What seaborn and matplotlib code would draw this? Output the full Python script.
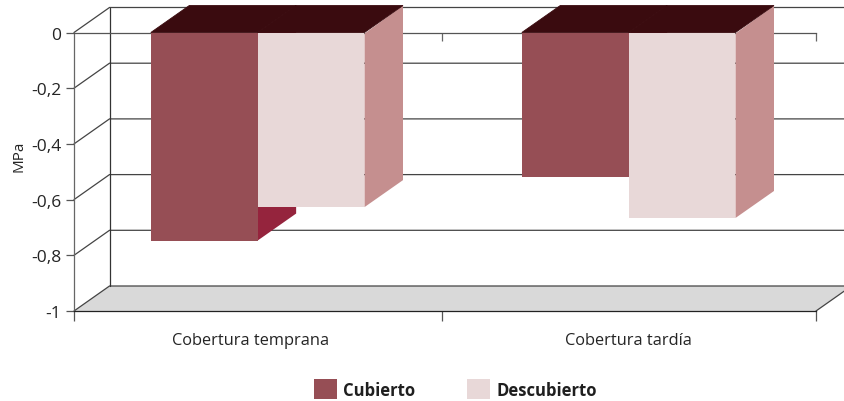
import matplotlib
matplotlib.use("Agg")
import matplotlib.pyplot as plt
from matplotlib.patches import Patch, Polygon
from matplotlib.transforms import ScaledTranslation
import pandas as pd
import seaborn as sns

categories = ["Cobertura temprana", "Cobertura tardía"]
series_names = ["Cubierto", "Descubierto"]
cubierto = [-0.747, -0.519]
descubierto = [-0.627, -0.666]
y_ticks = [0, -0.2, -0.4, -0.6, -0.8, -1]
y_tick_labels = ["0", "-0,2", "-0,4", "-0,6", "-0,8", "-1"]

FRONT = {"Cubierto": "#964e55", "Descubierto": "#e8d8d8"}
SIDE = {"Cubierto": "#95243d", "Descubierto": "#c58f8f"}
TOP = "#3a0b0f"
FLOOR = "#d9d9d9"
TEXT = "#242424"

W, H = 845, 402
sns.set_theme(style="white")
plt.rcParams["font.family"] = ["Open Sans", "DejaVu Sans"]

fig = plt.figure(figsize=(W / 100, H / 100), dpi=100)
ax = fig.add_axes([74 / W, (H - 312) / H, (816 - 74) / W, (312 - 33.5) / H])

df = pd.DataFrame({
    "categoria": categories * 2,
    "serie": [series_names[0]] * 2 + [series_names[1]] * 2,
    "mpa": cubierto + descubierto,
})
sns.barplot(data=df, x="categoria", y="mpa", hue="serie", palette=FRONT,
            width=0.576, gap=0, saturation=1, legend=False, linewidth=0, ax=ax)

x_left, x_mid, x_right = -0.495, 0.498, 1.505
ax.set_xlim(x_left, x_right)
ax.set_ylim(-1, 0)
ax.set_xlabel("")
ax.set_ylabel("MPa", fontsize=11, color=TEXT)
ax.yaxis.set_label_coords(-48 / 742, 0.56)

# Oblique depth of the box and of the bars, in axis units
wall_dx, wall_dy = 35.5 / 371, 25 / 278.5
bar_dx, bar_dy = 38.5 / 371, 27 / 278.5

# Floor, back wall and receding grid lines
ax.add_patch(Polygon([(x_left, -1), (x_left + wall_dx, -1 + wall_dy),
                      (x_right + wall_dx, -1 + wall_dy), (x_right, -1)],
                     closed=True, facecolor=FLOOR, edgecolor="none",
                     clip_on=False, zorder=1))
for v in y_ticks:
    ax.plot([x_left, x_left + wall_dx, x_right + wall_dx],
            [v, v + wall_dy, v + wall_dy],
            color="#444444", lw=0.9, clip_on=False, zorder=1.5,
            solid_joinstyle="miter")
ax.plot([x_left + wall_dx] * 2, [-1 + wall_dy, wall_dy], color="#333333", lw=0.9,
        clip_on=False, zorder=1.5)
ax.plot([x_right, x_right + wall_dx], [-1, -1 + wall_dy], color="#444444", lw=0.9,
        clip_on=False, zorder=1.5)

# Bar faces: sides and tops behind the front of each neighbouring bar
for i, (name, container) in enumerate(zip(series_names, ax.containers)):
    for bar in container:
        x0, x1 = bar.get_x(), bar.get_x() + bar.get_width()
        v = bar.get_height()
        bar.set_zorder(3 + i * 2)
        ax.add_patch(Polygon([(x1, -0.004), (x1 + bar_dx, bar_dy),
                              (x1 + bar_dx, v + bar_dy), (x1, v)],
                             closed=True, facecolor=SIDE[name], edgecolor="none",
                             clip_on=False, zorder=2 + i * 2))
        ax.add_patch(Polygon([(x0, 0), (x0 + bar_dx, bar_dy),
                              (x1 + bar_dx, bar_dy), (x1, 0)],
                             closed=True, facecolor=TOP, edgecolor=TOP, lw=0.6,
                             clip_on=False, zorder=6))

# Axes frame
for side in ["left", "top", "bottom"]:
    ax.spines[side].set_visible(True)
    ax.spines[side].set_linewidth(0.9)
    ax.spines[side].set_zorder(2.5)
ax.spines["right"].set_visible(False)
ax.spines["left"].set_color("#666666")
ax.spines["top"].set_color("#555555")
ax.spines["bottom"].set_color("#222222")

ax.set_yticks(y_ticks, y_tick_labels)
ax.tick_params(axis="y", left=True, length=6, width=0.9, color="#555555",
               pad=3, labelsize=12.5, labelcolor=TEXT)
ax.set_xticks([0, 1], categories)
ax.set_xticks([x_left, x_mid, x_right], minor=True)
ax.tick_params(axis="x", which="major", bottom=False, pad=9,
               labelsize=11.8, labelcolor=TEXT)
ax.tick_params(axis="x", which="minor", bottom=True, length=7, width=0.9,
               color="#555555")
ax.vlines([x_mid, x_right], -0.032, 0, color="#666666", lw=0.9, clip_on=False, zorder=2.5)

# The first category label sits slightly left of its group
first_label = ax.get_xticklabels()[0]
first_label.set_transform(first_label.get_transform()
                          + ScaledTranslation(-7 / 100, 0, fig.dpi_scale_trans))

handles = [Patch(facecolor=FRONT[n], edgecolor="none", label=n) for n in series_names]
leg = fig.legend(handles=handles, ncol=2, frameon=False,
                 loc="center", bbox_to_anchor=(455.5 / W, (H - 390) / H),
                 handlelength=1.38, handleheight=1.38, handletextpad=0.36,
                 columnspacing=3.1, borderpad=0,
                 prop={"size": 12, "weight": "bold"})
for t in leg.get_texts():
    t.set_color("#1f1f1f")

fig.savefig("out.png", dpi=100)
